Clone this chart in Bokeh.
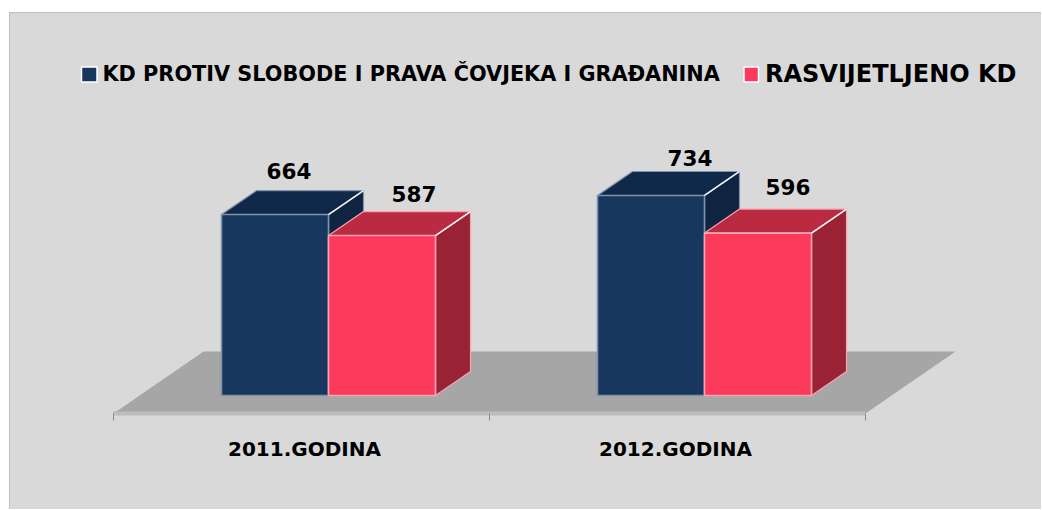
from bokeh.plotting import figure
from bokeh.embed import file_html
from bokeh.resources import INLINE
from bokeh.core.properties import value
from bokeh.models import FixedTicker, Range1d

categories = ["2011.GODINA", "2012.GODINA"]
series_names = ["KD PROTIV SLOBODE I PRAVA ČOVJEKA I GRAĐANINA", "RASVIJETLJENO KD"]
kd_values = [664, 734]
solved_values = [587, 596]

# layout (pixels of the picture -> data scales)
LEFT, TOP, RIGHT, AXIS_Y = 10, 13, 1042, 413
GROUP_PX, ZERO_X_PX, ZERO_Y_PX, PX_PER_VALUE = 376.0, 301.0, 395.0, 0.2725


def dx(px):
    return px / GROUP_PX


def dy(px):
    return px / PX_PER_VALUE


def X(px):
    return (px - ZERO_X_PX) / GROUP_PX


def Y(px):
    return (ZERO_Y_PX - px) / PX_PER_VALUE


FONT = value("DejaVu Sans")
PANEL = "#D9D9D9"
NAVY = dict(front="#17375E", top="#10294A", side="#0E2440", edge="#7F93AD")
RED = dict(front="#FC3A5C", top="#BA2A41", side="#9A2235", edge="#F7A3B2")

p = figure(
    width=1032, height=497, output_backend="svg", toolbar_location=None,
    x_range=Range1d(X(LEFT), X(RIGHT)), y_range=Range1d(Y(AXIS_Y), Y(TOP)),
    y_axis_location=None, x_axis_location="below",
    min_border_left=0, min_border_right=0, min_border_top=0, min_border_bottom=510 - AXIS_Y,
    background_fill_color=PANEL, border_fill_color=PANEL,
    outline_line_color=PANEL, outline_line_width=2,
)
p.margin = (12, 0, 0, 9)
p.styles = {"border-left": "1px solid #BFBFBF", "border-top": "1px solid #BFBFBF", "background-color": PANEL}
p.grid.visible = False

label_ticks = [0.008, 0.9947]
ax = p.xaxis[0]
ax.ticker = FixedTicker(ticks=label_ticks, minor_ticks=[-0.5, 0.5, 1.5])
ax.major_label_overrides = {label_ticks[0]: categories[0], label_ticks[1]: categories[1]}
ax.bounds = (-0.5, 1.5)
ax.major_tick_out = 0
ax.major_tick_in = 0
ax.minor_tick_out = 7
ax.minor_tick_in = 0
ax.minor_tick_line_color = "#8C8C8C"
ax.axis_line_color = "#BDBDBD"
ax.axis_line_width = 4
ax.major_label_standoff = 16
ax.major_label_text_font = "DejaVu Sans"
ax.major_label_text_font_style = "bold"
ax.major_label_text_font_size = "20px"
ax.major_label_text_color = "#000000"

# floor
floor_dx, floor_dy = dx(90), dy(62)
floor_x = [-0.5, 1.5, 1.5 + floor_dx, -0.5 + floor_dx]
floor_y = [Y(AXIS_Y), Y(AXIS_Y), Y(AXIS_Y) + floor_dy, Y(AXIS_Y) + floor_dy]
p.patch(floor_x, floor_y, fill_color="#A6A6A6", line_color=None)
p.line([-0.5, 1.5], [Y(AXIS_Y) + dy(1), Y(AXIS_Y) + dy(1)], line_color="#969696", line_width=1.5)

# bars
bar_w = dx(107)
shift = dx(27)
depth_x, depth_y = dx(35), dy(24)


def bar(x0, v, c):
    x1 = x0 + bar_w
    p.patch([x1, x1 + depth_x, x1 + depth_x, x1], [0, depth_y, v + depth_y, v],
            fill_color=c["side"], line_color=c["edge"], line_width=1.2)
    p.patch([x0, x1, x1 + depth_x, x0 + depth_x], [v, v, v + depth_y, v + depth_y],
            fill_color=c["top"], line_color=c["edge"], line_width=1.2)
    p.quad(left=[x0], right=[x1], bottom=[0], top=[v],
           fill_color=c["front"], line_color=c["edge"], line_width=1.6)
    p.line([x1, x1 + depth_x], [v, v + depth_y], line_color="#F2F2F2", line_width=1.5)


for i in range(2):
    centre = i + shift
    bar(centre - bar_w, kd_values[i], NAVY)
    bar(centre, solved_values[i], RED)

# value labels
label_x = [0 + shift - bar_w / 2, 0 + shift + bar_w / 2, 1 + shift - bar_w / 2, 1 + shift + bar_w / 2]
label_y = [kd_values[0], solved_values[0], kd_values[1], solved_values[1]]
label_text = [str(v) for v in label_y]
label_dx_px = [14, 32, 39, 30]
label_dy_px = [-44, -41.5, -37, -46]
p.text(
    x=label_x, y=label_y, text=label_text,
    x_offset=label_dx_px, y_offset=label_dy_px,
    text_font=FONT, text_font_style="bold", text_font_size="21.5px",
    text_align="center", text_baseline="middle", text_color="#000000",
)

# legend
key_h = dy(15)
for left_px, right_px, c in ((81, 96.5, NAVY), (743.5, 758, RED)):
    p.quad(left=[X(left_px)], right=[X(right_px)], bottom=[Y(74) - key_h / 2], top=[Y(74) + key_h / 2],
           fill_color=c["front"], line_color="#FFFFFF", line_width=1.5)
p.text(x=[X(102)], y=[Y(73.5)], text=[series_names[0]],
       text_font=FONT, text_font_style="bold", text_font_size="20.8px",
       text_align="left", text_baseline="middle", text_color="#000000")
p.text(x=[X(764.5)], y=[Y(73.5)], text=[series_names[1]],
       text_font=FONT, text_font_style="bold", text_font_size="24px",
       text_align="left", text_baseline="middle", text_color="#000000")

open("out.html", "w").write(file_html(p, INLINE))
